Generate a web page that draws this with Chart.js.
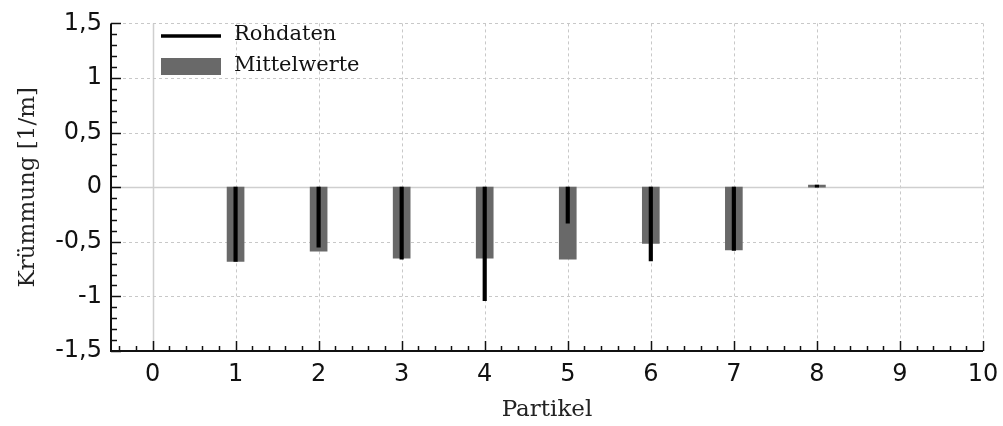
<!DOCTYPE html>
<html>
<head>
<meta charset="utf-8">
<script src="https://cdn.jsdelivr.net/npm/chart.js@4.4.1/dist/chart.umd.min.js"></script>
<style>
  html, body { margin: 0; padding: 0; background: #fff; }
  #wrap { width: 1003px; height: 426px; }
</style>
</head>
<body>
<div id="wrap"><canvas id="chart"></canvas></div>
<script>
// Partikel und Werte
const partikel = [1, 2, 3, 4, 5, 6, 7, 8];
const rohdaten = [-0.68, -0.55, -0.66, -1.04, -0.33, -0.675, -0.58, 0.02];
const mittelwerte = [-0.68, -0.585, -0.65, -0.65, -0.66, -0.515, -0.575, 0.02];
const xTicks = [0, 1, 2, 3, 4, 5, 6, 7, 8, 9, 10];
const yTicks = [-1.5, -1, -0.5, 0, 0.5, 1, 1.5];

const serif = '"DejaVu Serif", serif';
const sans = '"DejaVu Sans", sans-serif';

function fmt(v) {
  return String(v).replace('.', ',');
}

// Gitter, Achsen und Teilstriche (nach innen)
const axesPlugin = {
  id: 'axesPlugin',
  beforeDatasetsDraw(chart) {
    const ctx = chart.ctx;
    const a = chart.chartArea;
    const xs = chart.scales.x, ys = chart.scales.y;
    ctx.save();
    ctx.lineWidth = 1;
    xTicks.forEach(function(v) {
      const px = Math.round(xs.getPixelForValue(v)) + 0.5;
      ctx.strokeStyle = v === 0 ? '#cfcfcf' : '#c8c8c8';
      ctx.lineWidth = v === 0 ? 1.5 : 1;
      ctx.setLineDash(v === 0 ? [] : [3, 3]);
      ctx.beginPath(); ctx.moveTo(px, a.top); ctx.lineTo(px, a.bottom); ctx.stroke();
    });
    yTicks.forEach(function(v) {
      const py = Math.round(ys.getPixelForValue(v)) + 0.5;
      ctx.strokeStyle = v === 0 ? '#cfcfcf' : '#c8c8c8';
      ctx.lineWidth = v === 0 ? 1.5 : 1;
      ctx.setLineDash(v === 0 ? [] : [3, 3]);
      ctx.beginPath(); ctx.moveTo(a.left, py); ctx.lineTo(a.right, py); ctx.stroke();
    });
    ctx.restore();
  },
  afterDraw(chart) {
    const ctx = chart.ctx;
    const a = chart.chartArea;
    const xs = chart.scales.x, ys = chart.scales.y;
    ctx.save();
    ctx.strokeStyle = '#111';
    ctx.lineWidth = 2;
    ctx.beginPath();
    ctx.moveTo(a.left, a.top); ctx.lineTo(a.left, a.bottom); ctx.lineTo(a.right, a.bottom);
    ctx.stroke();
    ctx.lineWidth = 1.5;
    // x Teilstriche alle 0,2
    for (let i = -2; i <= 50; i++) {
      const v = i / 5;
      const px = Math.round(xs.getPixelForValue(v)) + 0.5;
      const len = i % 5 === 0 ? 10 : 5;
      ctx.beginPath(); ctx.moveTo(px, a.bottom); ctx.lineTo(px, a.bottom - len); ctx.stroke();
    }
    // y Teilstriche alle 0,1
    for (let i = -15; i <= 15; i++) {
      const v = i / 10;
      const py = Math.round(ys.getPixelForValue(v)) + 0.5;
      const len = i % 5 === 0 ? 10 : 6;
      ctx.beginPath(); ctx.moveTo(a.left, py); ctx.lineTo(a.left + len, py); ctx.stroke();
    }
    // Legende
    const lx = a.left + 50;
    ctx.strokeStyle = '#000';
    ctx.lineWidth = 3.5;
    ctx.beginPath(); ctx.moveTo(lx, 36); ctx.lineTo(lx + 60, 36); ctx.stroke();
    ctx.fillStyle = 'rgb(105,105,105)';
    ctx.fillRect(lx, 58, 60, 17);
    ctx.fillStyle = '#111';
    ctx.font = '21px ' + serif;
    ctx.textBaseline = 'middle';
    ctx.fillText(chart.data.datasets[0].label, lx + 73, 35);
    ctx.fillText(chart.data.datasets[1].label, lx + 73, 66);
    ctx.restore();
  }
};

new Chart(document.getElementById('chart'), {
  type: 'bar',
  data: {
    datasets: [{
      label: 'Rohdaten',
      data: partikel.map(function(p, i) { return { x: p, y: rohdaten[i] }; }),
      backgroundColor: '#000',
      barThickness: 3.5,
      grouped: false
    }, {
      label: 'Mittelwerte',
      data: partikel.map(function(p, i) { return { x: p, y: mittelwerte[i] }; }),
      backgroundColor: 'rgb(105,105,105)',
      barThickness: 17,
      grouped: false
    }]
  },
  options: {
    responsive: true,
    maintainAspectRatio: false,
    animation: false,
    layout: { padding: { top: 23, right: 20, left: 14, bottom: 0 } },
    plugins: {
      legend: { display: false },
      tooltip: { enabled: false }
    },
    scales: {
      x: {
        type: 'linear',
        min: -0.5,
        max: 10,
        offset: false,
        afterBuildTicks: function(scale) {
          scale.ticks = xTicks.map(function(v) { return { value: v }; });
        },
        afterFit: function(scale) {
          scale.height = 75;
          scale.paddingRight = 0;
          scale.paddingLeft = 0;
        },
        grid: { display: false, drawTicks: false, offset: false },
        border: { display: false },
        ticks: {
          padding: 9,
          color: '#111',
          font: { family: sans, size: 24 },
          maxRotation: 0,
          callback: function(v) { return fmt(v); }
        },
        title: {
          display: true,
          text: 'Partikel',
          color: '#222',
          font: { family: serif, size: 23 },
          padding: { top: 0, bottom: 2 }
        }
      },
      y: {
        min: -1.5,
        max: 1.5,
        afterBuildTicks: function(scale) {
          scale.ticks = yTicks.map(function(v) { return { value: v }; });
        },
        afterFit: function(scale) { scale.width = 97; },
        grid: { display: false, drawTicks: false },
        border: { display: false },
        ticks: {
          padding: 9,
          color: '#111',
          font: { family: sans, size: 24 },
          callback: function(v) { return fmt(v); }
        },
        title: {
          display: true,
          text: 'Krümmung [1/m]',
          color: '#222',
          font: { family: serif, size: 23 },
          padding: { top: 0, bottom: 0 }
        }
      }
    }
  },
  plugins: [axesPlugin]
});
</script>
</body>
</html>
